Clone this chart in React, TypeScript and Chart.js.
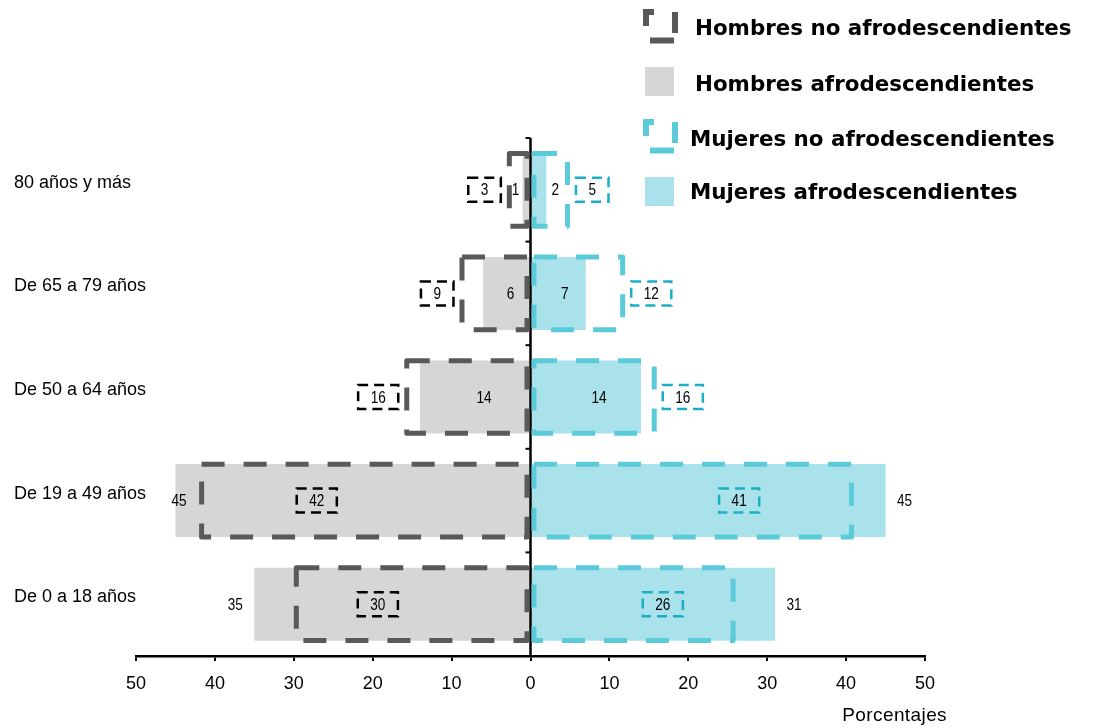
import React, { useEffect, useRef } from "react";
import { Chart, registerables } from "chart.js";

Chart.register(...registerables);

const categories = ["80 años y más", "De 65 a 79 años", "De 50 a 64 años", "De 19 a 49 años", "De 0 a 18 años"];
const hombresNoAfro = [3, 9, 16, 42, 30];
const hombresAfro = [1, 6, 14, 45, 35];
const mujeresNoAfro = [5, 12, 16, 41, 26];
const mujeresAfro = [2, 7, 14, 45, 31];
const legendLabels = [
  "Hombres no afrodescendientes",
  "Hombres afrodescendientes",
  "Mujeres no afrodescendientes",
  "Mujeres afrodescendientes",
];
const axisTitle = "Porcentajes";

const DARK = "#58595b";
const GRAY = "#d5d6d8";
const CYAN = "#5ccbd9";
const CYAN_FILL = "#a9e2ea";
const CYAN_BOX = "#1caec5";
const INK = "#000000";
const SANS = "'Liberation Sans', Arial, Helvetica, sans-serif";
const LEGEND_FONT = "'DejaVu Sans', 'Liberation Sans', sans-serif";

function rectPath(ctx: CanvasRenderingContext2D, l: number, t: number, r: number, b: number) {
  ctx.beginPath();
  ctx.moveTo(l, t);
  ctx.lineTo(r, t);
  ctx.lineTo(r, b);
  ctx.lineTo(l, b);
  ctx.closePath();
}

// condensed-looking value text
function narrowText(ctx: CanvasRenderingContext2D, txt: string, cx: number, cy: number) {
  ctx.save();
  ctx.translate(cx, cy);
  ctx.scale(0.8, 1);
  ctx.font = `17px ${SANS}`;
  ctx.fillStyle = INK;
  ctx.textAlign = "center";
  ctx.textBaseline = "middle";
  ctx.fillText(txt, 0, 0);
  ctx.restore();
}
function narrowWidth(ctx: CanvasRenderingContext2D, txt: string) {
  ctx.save();
  ctx.font = `17px ${SANS}`;
  const w = ctx.measureText(txt).width * 0.8;
  ctx.restore();
  return w;
}

const drawPlugin = {
  id: "pyramidDecor",
  afterDatasetsDraw(chart: any) {
    const ctx: CanvasRenderingContext2D = chart.ctx;
    const xs = chart.scales.x;
    const ca = chart.chartArea;
    const x0 = xs.getPixelForValue(0);
    const band = (ca.bottom - ca.top) / categories.length;

    ctx.save();
    // central axis
    ctx.strokeStyle = INK;
    ctx.lineWidth = 2.5;
    ctx.beginPath();
    ctx.moveTo(x0, ca.top);
    ctx.lineTo(x0, ca.bottom);
    ctx.stroke();
    ctx.lineWidth = 2;
    for (let i = 0; i <= categories.length; i++) {
      const yb = ca.top + i * band;
      ctx.beginPath();
      ctx.moveTo(x0 - 5, yb);
      ctx.lineTo(x0, yb);
      ctx.stroke();
    }

    // dashed outlines for "no afro" series
    const outlineSets = [
      { di: 2, color: DARK },
      { di: 3, color: CYAN },
    ];
    const lw = 5;
    outlineSets.forEach(({ di, color }) => {
      const meta = chart.getDatasetMeta(di);
      meta.data.forEach((el: any) => {
        const p = el.getProps(["x", "y", "base", "height"], true);
        const l = Math.min(p.x, p.base);
        const r = Math.max(p.x, p.base);
        const t = p.y - p.height / 2;
        const b = p.y + p.height / 2;
        ctx.save();
        ctx.strokeStyle = color;
        ctx.lineWidth = lw;
        ctx.lineJoin = "round";
        ctx.setLineDash([23, 19]);
        rectPath(ctx, l + lw / 2, t + lw / 2, r - lw / 2, b - lw / 2);
        ctx.stroke();
        ctx.restore();
      });
    });

    // labels of filled bars
    const fillSets = [
      { di: 0, values: hombresAfro, sign: -1, frac: 0.42, small: 7 },
      { di: 1, values: mujeresAfro, sign: 1, frac: 0.62, small: 9 },
    ];
    fillSets.forEach(({ di, values, sign, frac, small }) => {
      const meta = chart.getDatasetMeta(di);
      meta.data.forEach((el: any, i: number) => {
        const v = values[i];
        const end = xs.getPixelForValue(sign * v);
        let px: number;
        if (v >= 20) {
          px = end + sign * 19;
          if (sign < 0) px = Math.max(px, ca.left + 43);
        } else if (v <= 2) {
          px = end + sign * small;
        } else {
          px = xs.getPixelForValue(sign * v * frac);
        }
        narrowText(ctx, String(v), px, el.y + 1);
      });
    });

    // labels of outlined bars, in dashed boxes
    const boxSets = [
      { di: 2, values: hombresNoAfro, sign: -1, color: INK },
      { di: 3, values: mujeresNoAfro, sign: 1, color: CYAN_BOX },
    ];
    boxSets.forEach(({ di, values, sign, color }) => {
      const meta = chart.getDatasetMeta(di);
      meta.data.forEach((el: any, i: number) => {
        const v = values[i];
        const txt = String(v);
        const tw = narrowWidth(ctx, txt);
        const bw = tw + 25;
        const bh = 24;
        const end = xs.getPixelForValue(sign * v);
        let cx: number;
        if (v >= 20) cx = xs.getPixelForValue(sign * v * 0.645);
        else cx = end + sign * (6 + bw / 2);
        const cy = el.y;
        ctx.save();
        ctx.strokeStyle = color;
        ctx.lineWidth = 2.5;
        ctx.setLineDash([10, 6]);
        rectPath(ctx, cx - bw / 2, cy - bh / 2, cx + bw / 2, cy + bh / 2);
        ctx.stroke();
        ctx.restore();
        narrowText(ctx, txt, cx, cy + 1);
      });
    });
    ctx.restore();
  },
  afterDraw(chart: any) {
    const ctx: CanvasRenderingContext2D = chart.ctx;
    const ca = chart.chartArea;
    ctx.save();
    // legend
    const rows = [
      { kind: "dash", color: DARK, top: 12, textX: 695, base: 35 },
      { kind: "fill", color: GRAY, top: 67, textX: 695, base: 91 },
      { kind: "dash", color: CYAN, top: 122, textX: 690, base: 146 },
      { kind: "fill", color: CYAN_FILL, top: 177, textX: 690, base: 199 },
    ];
    rows.forEach((r, i) => {
      if (r.kind === "dash") {
        ctx.save();
        ctx.strokeStyle = r.color;
        ctx.lineWidth = 6;
        ctx.setLineDash([22, 21, 21, 8.5, 24, 18.5]);
        ctx.lineDashOffset = 14;
        rectPath(ctx, 646, r.top, 675, r.top + 28.5);
        ctx.stroke();
        ctx.restore();
      } else {
        ctx.fillStyle = r.color;
        ctx.fillRect(645, r.top, 29, 29);
      }
      ctx.fillStyle = INK;
      ctx.font = `bold 21.4px ${LEGEND_FONT}`;
      ctx.textAlign = "left";
      ctx.textBaseline = "alphabetic";
      ctx.fillText(legendLabels[i], r.textX, r.base);
    });
    // axis title
    ctx.font = `19px ${SANS}`;
    (ctx as any).letterSpacing = "0.4px";
    ctx.fillStyle = INK;
    ctx.textAlign = "right";
    ctx.textBaseline = "alphabetic";
    ctx.fillText(axisTitle, ca.right + 22, 721);
    (ctx as any).letterSpacing = "0px";
    ctx.restore();
  },
};

export default function App() {
  const ref = useRef<HTMLCanvasElement | null>(null);

  useEffect(() => {
    if (!ref.current) return;
    const chart = new Chart(ref.current, {
      type: "bar",
      data: {
        labels: categories,
        datasets: [
          {
            label: legendLabels[1],
            data: hombresAfro.map((v) => -v),
            backgroundColor: GRAY,
            borderWidth: 0,
            grouped: false,
            barPercentage: 0.705,
            categoryPercentage: 1,
          },
          {
            label: legendLabels[3],
            data: mujeresAfro,
            backgroundColor: CYAN_FILL,
            borderWidth: 0,
            grouped: false,
            barPercentage: 0.705,
            categoryPercentage: 1,
          },
          {
            label: legendLabels[0],
            data: hombresNoAfro.map((v) => -v),
            backgroundColor: "rgba(0,0,0,0)",
            borderWidth: 0,
            grouped: false,
            barPercentage: 0.75,
            categoryPercentage: 1,
          },
          {
            label: legendLabels[2],
            data: mujeresNoAfro,
            backgroundColor: "rgba(0,0,0,0)",
            borderWidth: 0,
            grouped: false,
            barPercentage: 0.75,
            categoryPercentage: 1,
          },
        ],
      } as any,
      options: {
        indexAxis: "y",
        responsive: false,
        animation: false,
        events: [],
        layout: { padding: { left: 14, right: 168, top: 138, bottom: 0 } },
        plugins: {
          legend: { display: false },
          tooltip: { enabled: false },
        },
        scales: {
          x: {
            type: "linear",
            min: -50,
            max: 50,
            ticks: {
              stepSize: 10,
              callback: (v: any) => String(Math.abs(Number(v))),
              font: { family: SANS, size: 18 },
              color: INK,
              padding: 12,
              maxRotation: 0,
            },
            grid: {
              drawOnChartArea: false,
              drawTicks: true,
              tickLength: 5,
              tickWidth: 2,
              color: INK,
              lineWidth: 2,
            },
            border: { display: true, color: INK, width: 2.5 },
            afterFit: (s: any) => {
              s.height = 72;
            },
          },
          y: {
            ticks: {
              mirror: true,
              crossAlign: "near",
              padding: -122,
              font: { family: SANS, size: 18 },
              color: INK,
              labelOffset: -7,
            },
            grid: { display: false },
            border: { display: false },
            afterFit: (s: any) => {
              s.width = 122;
            },
          },
        },
      } as any,
      plugins: [drawPlugin],
    });
    return () => chart.destroy();
  }, []);

  return (
    <div style={{ position: "fixed", left: 0, top: 0, width: 1093, height: 728, background: "#fff" }}>
      <canvas ref={ref} width={1093} height={728} style={{ display: "block" }} />
    </div>
  );
}
